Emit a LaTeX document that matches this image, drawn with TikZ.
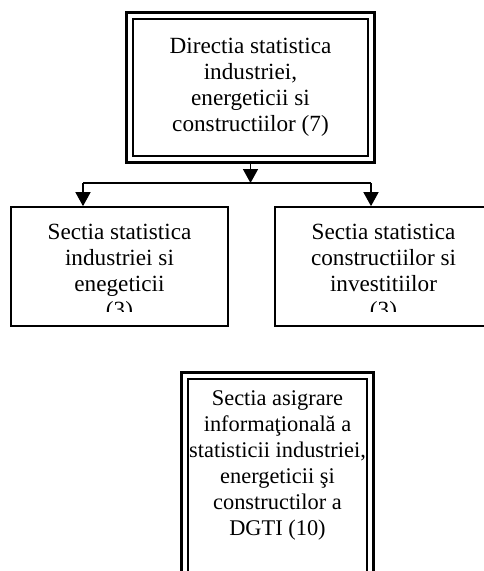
\documentclass[tikz,border=0pt]{standalone}
\usepackage{fontspec}
\setmainfont{Liberation Serif}
\usetikzlibrary{arrows.meta}
\newcommand{\boxfont}{\fontsize{23.2bp}{26bp}\selectfont}
\newcommand{\lastfont}{\fontsize{22.4bp}{26bp}\selectfont}

\begin{document}
\begin{tikzpicture}[x=1bp, y=-1bp,
	frame/.style = {draw, line width=2bp},
	outframe/.style = {draw, line width=2.6bp},
	lowbox/.style = {draw, line width=1.7bp, minimum width=217bp, minimum height=119bp, inner sep=0pt},
	boxtext/.style = {font=\boxfont, align=center, inner sep=0pt, anchor = north},
	link/.style = {line width=1.6bp},
	arr/.style = {link, -{Triangle[width=15bp, length=14bp]}}]
	\useasboundingbox (0,0) rectangle (484,571);
	\clip (0,0) rectangle (484,571);

	% head of the tree
	\node[frame, minimum width=235bp, minimum height=137bp, inner sep=0pt, font=\boxfont, align=center]
		(dir) at (250.5,87.5) {Directia statistica\\ industriei,\\ energeticii si\\ constructiilor (7)};
	\draw[outframe] ([shift={(-5.5bp,5.5bp)}]dir.north west) rectangle ([shift={(5.5bp,-5.5bp)}]dir.south east);

	% the two sections
	\node[lowbox] (sind) at (119.5,266.5) {};
	\node[lowbox] (scon) at (383.5,266.5) {};
	\begin{scope}
		\clip (11,207) rectangle (492,311);
		\node[boxtext] (sindtext) at (119.5,224) {Sectia statistica\\ industriei si\\ enegeticii\\ (3)};
		\node[boxtext] (scontext) at (383.5,224) {Sectia statistica\\ constructiilor si\\ investitiilor\\ (3)};
	\end{scope}

	% connectors
	\coordinate (hub) at (250.5,183);
	\coordinate (lhub) at (83,183);
	\coordinate (rhub) at (371,183);
	\draw[arr] ([yshift=-5.5bp]dir.south) -- (hub);
	\draw[link] (lhub) -- (rhub);
	\draw[arr] (lhub) -- (lhub |- sind.north);
	\draw[arr] (rhub) -- (rhub |- scon.north);

	% the section below, cut by the page
	\node[frame, minimum width=179bp, minimum height=240bp, inner sep=0pt, anchor = north] (asig) at (277.5,378) {};
	\draw[outframe] ([shift={(-5.5bp,5.5bp)}]asig.north west) rectangle ([shift={(5.5bp,-5.5bp)}]asig.south east);
	\node[boxtext, font=\lastfont] (asigtext) at (277.5,390) {Sectia asigrare\\ informaţională a\\ statisticii industriei,\\ energeticii şi\\ constructilor a\\ DGTI (10)};
\end{tikzpicture}
\end{document}
